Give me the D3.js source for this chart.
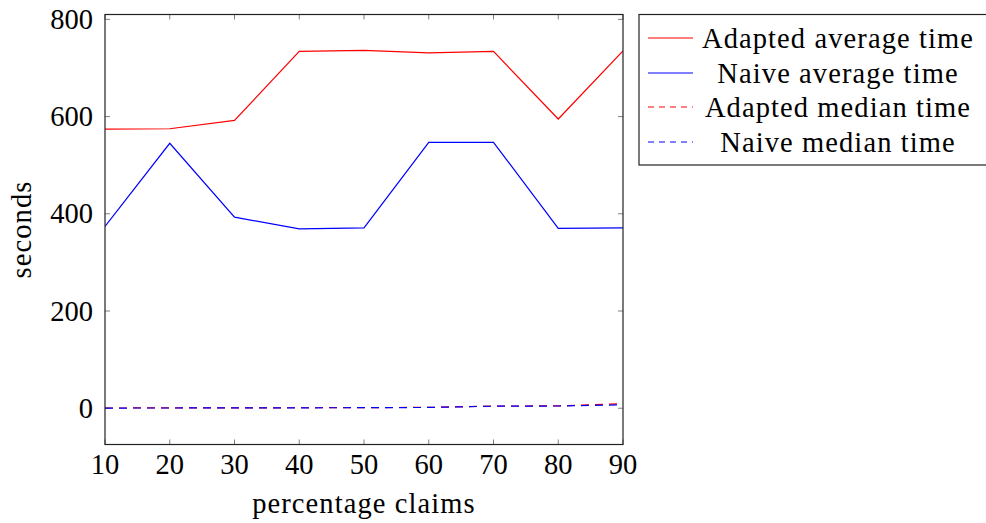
<!DOCTYPE html>
<html>
<head>
<meta charset="utf-8">
<script src="https://d3js.org/d3.v7.min.js"></script>
<style>
  body { margin: 0; background: #fff; }
  text { font-family: "Liberation Serif", serif; fill: #000; }
  .word { letter-spacing: 1.1px; }
</style>
</head>
<body>
<script>
// data
const claims = [10, 20, 30, 40, 50, 60, 70, 80, 90];
const adaptedAvg = [574, 575, 592, 734, 736, 731, 734, 595, 735];
const naiveAvg = [374, 545, 393, 369, 371, 547, 547, 370, 371];
const adaptedMedian = [0.5, 0.6, 0.8, 1.0, 1.2, 1.8, 4.5, 4.8, 9.5];
const naiveMedian = [0.4, 0.5, 0.7, 0.9, 1.1, 1.6, 4.2, 4.6, 7.0];
const yTicks = [0, 200, 400, 600, 800];

const series = [
  { name: "Adapted average time", values: adaptedAvg, color: "#ff0000", dash: null },
  { name: "Naive average time", values: naiveAvg, color: "#0000ff", dash: null },
  { name: "Adapted median time", values: adaptedMedian, color: "#ff0000", dash: "8,6" },
  { name: "Naive median time", values: naiveMedian, color: "#0000ff", dash: "8,6" }
];

const W = 986, H = 523;
const pad = { left: 105, right: 623, top: 14.5, bottom: 444.5 };
const fs = "28.5px";

const svg = d3.select("body").append("svg")
  .attr("width", W).attr("height", H);

const x = d3.scaleLinear().domain([10, 90]).range([pad.left, pad.right]);
const y = d3.scaleLinear().domain([-74.6, 810]).range([pad.bottom, pad.top]);

const tickLen = 5;
const gTicks = svg.append("g").attr("stroke", "#808080").attr("stroke-width", 1);

// ticks on all four sides, pointing inward
claims.forEach(function(v) {
  gTicks.append("line").attr("x1", x(v)).attr("x2", x(v))
    .attr("y1", pad.bottom).attr("y2", pad.bottom - tickLen);
  gTicks.append("line").attr("x1", x(v)).attr("x2", x(v))
    .attr("y1", pad.top).attr("y2", pad.top + tickLen);
});
yTicks.forEach(function(v) {
  gTicks.append("line").attr("x1", pad.left).attr("x2", pad.left + tickLen)
    .attr("y1", y(v)).attr("y2", y(v));
  gTicks.append("line").attr("x1", pad.right).attr("x2", pad.right - tickLen)
    .attr("y1", y(v)).attr("y2", y(v));
});

// lines
const line = d3.line()
  .x(function(d, i) { return x(claims[i]); })
  .y(function(d) { return y(d); });

svg.append("clipPath").attr("id", "plotclip")
  .append("rect").attr("x", pad.left).attr("y", pad.top)
  .attr("width", pad.right - pad.left).attr("height", pad.bottom - pad.top);

svg.append("g").attr("clip-path", "url(#plotclip)")
  .selectAll("path")
  .data(series)
  .enter()
  .append("path")
  .attr("d", function(d) { return line(d.values); })
  .attr("fill", "none")
  .attr("stroke", function(d) { return d.color; })
  .attr("stroke-width", 1.2)
  .attr("stroke-dasharray", function(d) { return d.dash; });

// frame
svg.append("rect")
  .attr("x", pad.left).attr("y", pad.top)
  .attr("width", pad.right - pad.left).attr("height", pad.bottom - pad.top)
  .attr("fill", "none").attr("stroke", "#222").attr("stroke-width", 1.2);

// tick labels
svg.append("g").selectAll("text")
  .data(claims).enter().append("text")
  .attr("x", function(d) { return x(d); })
  .attr("y", 474)
  .attr("text-anchor", "middle")
  .attr("font-size", fs)
  .text(function(d) { return d; });

svg.append("g").selectAll("text")
  .data(yTicks).enter().append("text")
  .attr("x", 93)
  .attr("y", function(d) { return y(d) + 9.5; })
  .attr("text-anchor", "end")
  .attr("font-size", fs)
  .text(function(d) { return d; });

// axis labels
svg.append("text")
  .attr("class", "word")
  .attr("x", (pad.left + pad.right) / 2).attr("y", 513)
  .attr("text-anchor", "middle").attr("font-size", fs)
  .text("percentage claims");

svg.append("text")
  .attr("class", "word")
  .attr("transform", "translate(31," + ((pad.top + pad.bottom) / 2) + ") rotate(-90)")
  .attr("text-anchor", "middle").attr("font-size", fs)
  .text("seconds");

// legend
const lg = svg.append("g");
lg.append("rect")
  .attr("x", 639).attr("y", 14.5)
  .attr("width", 360).attr("height", 150.5)
  .attr("fill", "#fff").attr("stroke", "#222").attr("stroke-width", 1.2);

const rowY = [38, 73, 107, 142];
series.forEach(function(s, i) {
  lg.append("line")
    .attr("x1", 648).attr("x2", 693)
    .attr("y1", rowY[i]).attr("y2", rowY[i])
    .attr("stroke", s.color).attr("stroke-width", 1.2)
    .attr("stroke-dasharray", s.dash ? "6,5" : null);
  lg.append("text")
    .attr("class", "word")
    .attr("x", 838).attr("y", rowY[i] + 9.5)
    .attr("text-anchor", "middle").attr("font-size", fs)
    .text(s.name);
});
</script>
</body>
</html>
